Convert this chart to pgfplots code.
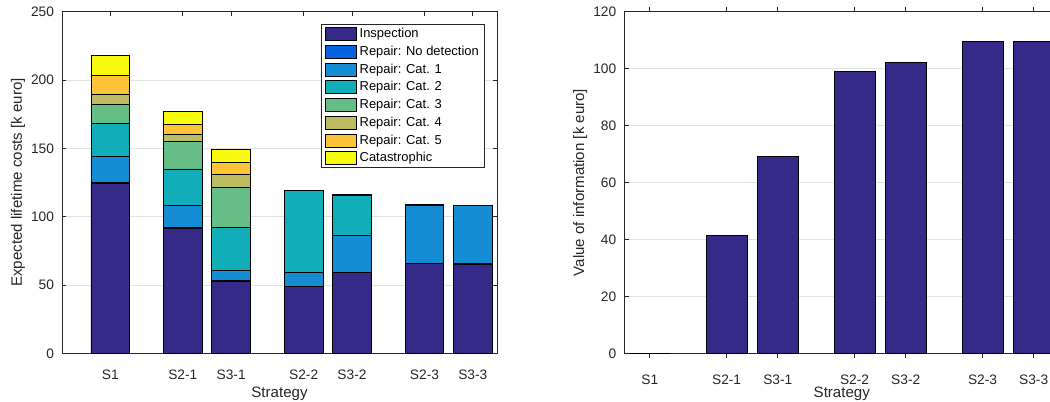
\documentclass[border=0pt]{standalone}
\usepackage{fontspec}
\setmainfont{Liberation Sans}
\usepackage{pgfplots}
\pgfplotsset{compat=1.18}
\definecolor{cInsp}{RGB}{53,42,135}
\definecolor{cNoDet}{RGB}{3,99,225}
\definecolor{cCat1}{RGB}{20,141,212}
\definecolor{cCat2}{RGB}{17,174,185}
\definecolor{cCat3}{RGB}{100,190,134}
\definecolor{cCat4}{RGB}{190,188,96}
\definecolor{cCat5}{RGB}{255,195,55}
\definecolor{cCata}{RGB}{249,251,14}
\definecolor{axc}{RGB}{38,38,38}
\definecolor{gridc}{RGB}{226,226,226}
\pgfplotsset{
  mstyle/.style={
    scale only axis, width=326.25pt, height=256.2pt,
    axis line style={axc, line width=0.6pt},
    tick style={axc, line width=0.6pt},
    tick align=inside, major tick length=3.3pt,
    tick pos=both,
    ymajorgrids, grid style={gridc, line width=0.6pt},
    ticklabel style={font=\fontsize{10.3}{12}\selectfont, text=axc},
    /pgf/number format/assume math mode=true,
    xtick={1,2.5,3.5,5,6,7.5,8.5},
    xticklabels={S1,S2-1,S3-1,S2-2,S3-2,S2-3,S3-3},
    xticklabel style={anchor=base, yshift=-20pt},
    yticklabel style={anchor=east, inner sep=0pt, xshift=-5.8pt},
    label style={font=\fontsize{11.3}{13}\selectfont, text=axc},
    xlabel style={at={(axis description cs:0.5,0)}, anchor=base, yshift=-33.2pt},
    ylabel style={at={(axis description cs:-0.101,0.5)}, anchor=center},
    xlabel={Strategy},
    bar width=0.8,
    every axis plot/.append style={draw=black, line width=0.6pt},
    ymin=0, xmax=9,
  }
}
\begin{document}
\begin{tikzpicture}
\begin{axis}[mstyle, at={(0pt,0pt)}, anchor=south west,
  ybar stacked, xmin=0, ymax=250, ytick={0,50,100,150,200,250},
  ylabel={Expected lifetime costs [k euro]},
  legend style={at={(1,1)}, anchor=north east, xshift=-9.5pt, yshift=-9.5pt,
    draw=axc, line width=0.5pt, font=\fontsize{9.7}{11}\selectfont, text=black,
    inner xsep=2.8pt, inner ysep=0.4pt, row sep=0pt, cells={anchor=west},
    nodes={inner xsep=1.1pt, inner ysep=0pt, text height=9.4pt, text depth=3.9pt}},
  legend image code/.code={\draw[#1] (0pt,-4.9pt) rectangle (23.25pt,4.9pt); \path (0pt,0pt) (24.4pt,0pt);},
]
\addplot[fill=cInsp] coordinates {(1,124.5) (2.5,91.5) (3.5,52.8) (5,48.8) (6,59.3) (7.5,65.7) (8.5,65.4)};
\addplot[fill=cNoDet] coordinates {(1,0.4) (2.5,0.3) (3.5,0.3) (5,0.3) (6,0.2) (7.5,0.2) (8.5,0.2)};
\addplot[fill=cCat1] coordinates {(1,19.3) (2.5,16.2) (3.5,7.9) (5,10.4) (6,26.6) (7.5,42.6) (8.5,42.6)};
\addplot[fill=cCat2] coordinates {(1,24.1) (2.5,26.9) (3.5,30.9) (5,59.8) (6,29.7) (7.5,0.3) (8.5,0.3)};
\addplot[fill=cCat3] coordinates {(1,13.9) (2.5,20.0) (3.5,29.8) (5,0.0) (6,0.2) (7.5,0.0) (8.5,0.0)};
\addplot[fill=cCat4] coordinates {(1,7.6) (2.5,5.4) (3.5,9.0) (5,0.0) (6,0.1) (7.5,0.0) (8.5,0.0)};
\addplot[fill=cCat5] coordinates {(1,13.6) (2.5,7.3) (3.5,9.1) (5,0.0) (6,0.1) (7.5,0.0) (8.5,0.0)};
\addplot[fill=cCata] coordinates {(1,14.9) (2.5,9.2) (3.5,9.5) (5,0.0) (6,0.0) (7.5,0.0) (8.5,0.0)};
\legend{Inspection, Repair: No detection, Repair: Cat. 1, Repair: Cat. 2, Repair: Cat. 3, Repair: Cat. 4, Repair: Cat. 5, Catastrophic}
\end{axis}
\begin{axis}[mstyle, at={(421.7pt,0pt)}, anchor=south west,
  ybar, xmin=0.5, ymax=120, ytick={0,20,40,60,80,100,120},
  ylabel={Value of information [k euro]},
]
\addplot[fill=cInsp] coordinates {(1,0) (2.5,41.5) (3.5,69.0) (5,99.0) (6,102.2) (7.5,109.5) (8.5,109.7)};
\end{axis}
\pgfresetboundingbox
\path[use as bounding box] (-46.5pt,-35.78pt) rectangle (741pt,264.98pt);
\end{tikzpicture}
\end{document}
